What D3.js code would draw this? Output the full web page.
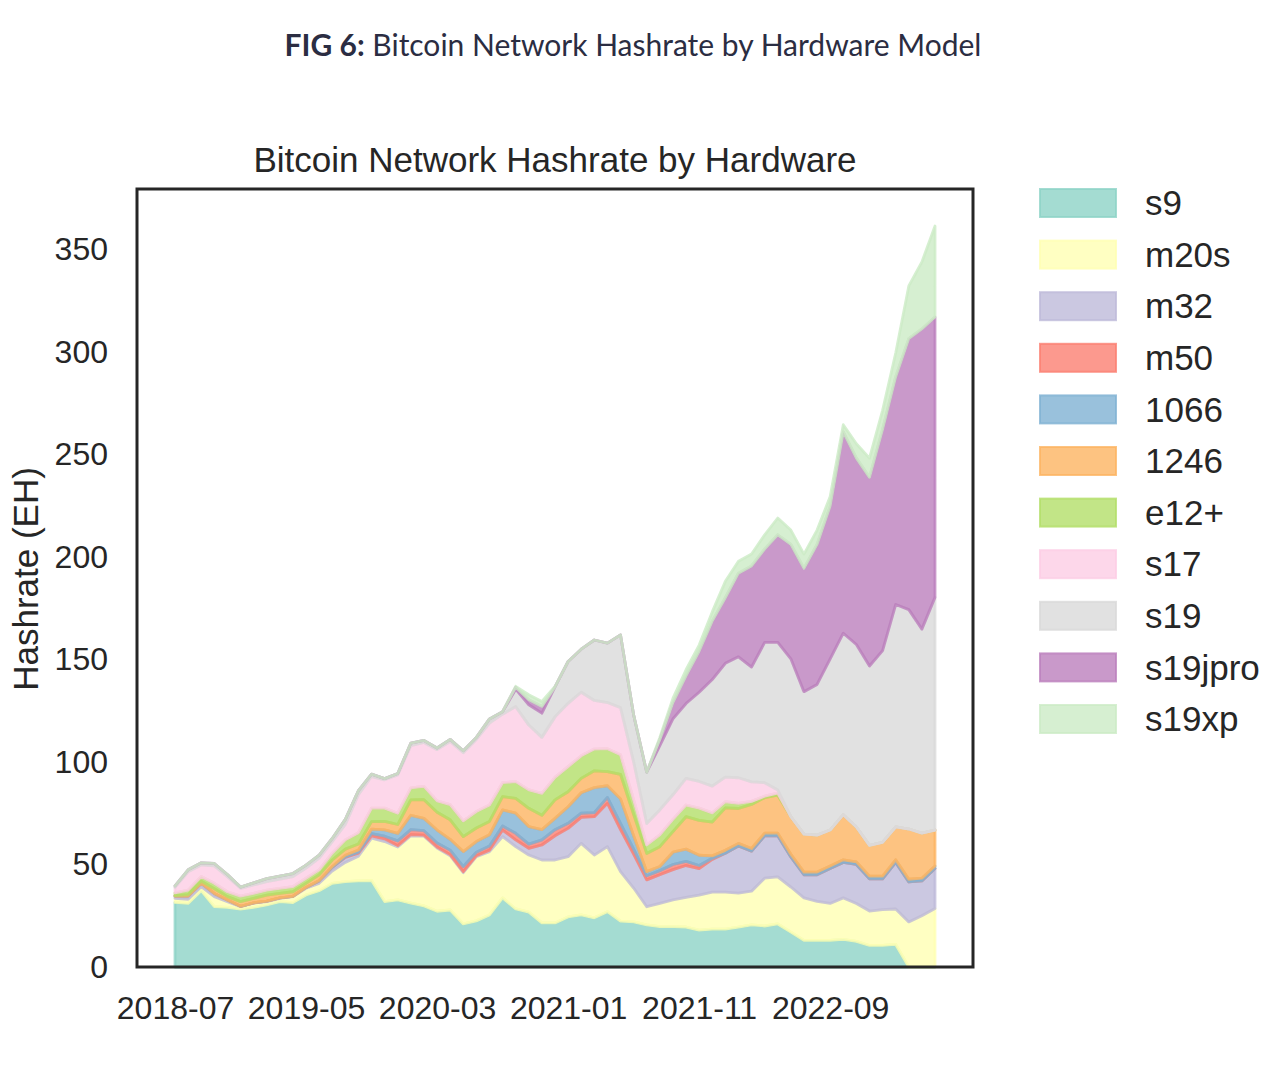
<!DOCTYPE html>
<html>
<head>
<meta charset="utf-8">
<script src="https://cdnjs.cloudflare.com/ajax/libs/d3/7.8.5/d3.min.js"></script>
<style>
  body { margin: 0; background: #fff; }
  svg { display: block; }
</style>
</head>
<body>
<svg></svg>
<script>
// Hashrate by hardware model, EH, monthly 2018-07 .. 2023-05
const tickLabels = ['2018-07', '2019-05', '2020-03', '2021-01', '2021-11', '2022-09']
const yTicks = [0, 50, 100, 150, 200, 250, 300, 350]
const models = ['s9', 'm20s', 'm32', 'm50', '1066', '1246', 'e12+', 's17', 's19', 's19jpro', 's19xp']
const colors = ['#8dd3c7', '#ffffb3', '#bebada', '#fb8072', '#80b1d3', '#fdb462', '#b3de69', '#fccde5', '#d9d9d9', '#bc80bd', '#ccebc5']

const s9 = [31.5, 31, 37.2, 29.4, 29.1, 28.2, 29.1, 30.3, 31.9, 31.4,
    35.1, 37.2, 40.8, 41.6, 42, 42.2, 31.9, 32.7, 31.2, 29.8,
    27.2, 27.8, 21, 22.5, 25.4, 33.7, 28.3, 26.8, 21.5, 21.5,
    24.4, 25.4, 24, 27, 22.4, 22, 20.5, 19.7, 19.7, 19.5,
    18, 18.5, 18.5, 19.5, 20.5, 20, 21, 17, 13, 13,
    13, 13.5, 12.5, 10.5, 10.5, 11, 0, 0, 0]
const m20s = [2.0, 2.0, 2.0, 4.9, 2.8, 1.2, 2.0, 1.6, 1.6, 2.9,
    3.3, 3.6, 6.0, 9.4, 12.0, 20.6, 29.3, 25.8, 32.8, 34.0,
    30.8, 26.5, 25.0, 31.3, 30.9, 29.9, 30.4, 27.8, 30.7, 30.7,
    29.4, 34.9, 30.6, 31.7, 24.1, 16.5, 8.9, 11.3, 13.0, 14.5,
    17.1, 18.0, 18.0, 16.5, 16.5, 23.3, 23.0, 22.0, 20.7, 19.0,
    18.0, 20.2, 18.5, 16.8, 17.5, 17.3, 22.0, 25.0, 28.5]
const m32 = [1.1, 1.6, 1.7, 1.6, 0.8, 0.2, 0.2, 0.2, 0.2, 0.2,
    0.4, 1.2, 1.8, 2.5, 1.5, 1.2, 1.3, 0.7, 0.6, 0.5,
    0.5, 0.5, 0.5, 0.5, 0.7, 3.2, 3.3, 3.3, 7.3, 11.8,
    13.8, 12.7, 18.7, 21.1, 20.5, 16.5, 13.1, 14.0, 14.8, 15.5,
    12.9, 16.0, 19.0, 23.0, 19.5, 20.7, 20.0, 14.7, 11.3, 13.0,
    17.0, 17.3, 19.0, 15.7, 15.0, 22.7, 19.5, 17.0, 19.5]
const m50 = [0, 0, 0, 0, 0, 0, 0, 0, 0, 0,
    0, 0, 0, 0.2, 0.5, 1.0, 1.3, 2.3, 2.4, 2.2,
    2.0, 2.2, 2.5, 1.7, 2.0, 2.0, 3.2, 2.0, 2.5, 3.0,
    2.5, 2.0, 2.0, 2.9, 3.0, 2.5, 2.0, 2.0, 2.5, 2.0,
    1.5, 0.5, 0, 0, 0, 0, 0, 0, 0, 0,
    0, 0, 0, 0, 0, 0, 0, 0, 0]
const k1066 = [0, 0, 0, 0, 0, 0, 0, 0, 0, 0,
    0, 0.2, 0.4, 0.8, 1.1, 2.2, 3.1, 3.7, 7.0, 6.0,
    6.3, 5.3, 7.3, 5.2, 5.5, 7.8, 9.8, 8.6, 5.0, 5.5,
    8.1, 10.0, 12.2, 5.7, 12.0, 6.5, 2.0, 2.0, 6.0, 6.0,
    5.0, 1.2, 1.4, 1.3, 1.3, 1.3, 1.3, 1.3, 1.3, 1.3,
    1.3, 1.3, 1.3, 1.3, 1.3, 1.3, 1.3, 1.3, 1.3]
const k1246 = [0.2, 0.7, 0.9, 2.3, 1.6, 2.3, 2.2, 3.0, 2.2, 2.2,
    2.0, 2.7, 3.2, 3.0, 2.9, 3.7, 4.1, 4.3, 7.5, 9.1,
    8.7, 9.5, 7.3, 6.6, 6.5, 6.5, 7.3, 8.9, 7.0, 9.0,
    7.3, 7.0, 8.2, 6.9, 12.0, 10.5, 8.9, 9.7, 10.0, 15.8,
    17.0, 16.5, 20.7, 17.0, 21.5, 17.3, 18.5, 18.3, 18.5, 18.0,
    17.5, 22.0, 17.0, 15.0, 16.5, 16.0, 24.5, 22.0, 17.5]
const e12 = [1.4, 2.2, 2.3, 2.6, 2.4, 2.7, 2.4, 2.4, 2.5, 2.5,
    2.5, 2.5, 3.3, 4.5, 5.5, 6.6, 6.5, 5.5, 5.9, 6.5,
    5.5, 7.4, 7.7, 8.0, 8.0, 6.8, 8.1, 9.0, 10.7, 11.0,
    12.2, 11.0, 10.6, 11.2, 9.5, 7.0, 4.1, 5.7, 6.0, 5.7,
    6.0, 4.5, 3.0, 2.5, 1.5, 0.7, 1.0, 0, 0, 0,
    0, 0, 0, 0, 0, 0, 0, 0, 0]
const s17 = [2.6, 8.9, 5.7, 8.5, 7.4, 3.8, 4.1, 4.1, 4.4, 4.9,
    4.9, 5.7, 5.7, 7.5, 18.5, 15.4, 13.8, 18.7, 20.6, 21.4,
    25.0, 30.8, 33.2, 35.2, 40.0, 33.4, 36.6, 31.6, 27.3, 29.5,
    30.9, 31.0, 23.7, 22.5, 23.0, 18.5, 10.5, 12.2, 12.0, 13.0,
    13.0, 13.0, 12.0, 12.5, 9.5, 6.6, 1.5, 0, 0, 0,
    0, 0, 0, 0, 0, 0, 0, 0, 0]
const s19 = [0.8, 1.0, 1.0, 1.2, 1.0, 0.6, 1.0, 1.5, 1.5, 1.5,
    1.5, 1.5, 1.5, 2.5, 2.0, 1.2, 0.6, 0.7, 1.2, 1.0,
    0.8, 1.0, 1.0, 1.0, 2.0, 1.2, 8.5, 9.9, 11.8, 14.6,
    20.4, 21.0, 29.5, 29.0, 35.5, 23.0, 25.0, 31.4, 37.0, 36.5,
    43.5, 52.0, 55.5, 59.0, 56.0, 68.4, 72.0, 77.0, 69.5, 73.5,
    83.5, 88.5, 89.0, 87.5, 93.5, 108.5, 107.0, 99.5, 113.5]
const s19jpro = [0, 0, 0, 0, 0, 0, 0, 0, 0, 0,
    0, 0, 0, 0, 0, 0, 0, 0, 0, 0,
    0, 0, 0, 0, 0, 0, 1.0, 2.5, 3.3, 0,
    0, 0, 0, 0, 0, 0, 0, 3.0, 8.0, 13.5,
    20.0, 28.5, 32.0, 40.8, 49.3, 45.5, 52.5, 55.8, 60.1, 68.3,
    74.5, 98.2, 90.9, 92.0, 107.9, 111.0, 132.2, 146.4, 136.7]
const s19xp = [0, 0, 0, 0, 0, 0, 0, 0, 0, 0,
    0, 0, 0, 0, 0, 0, 0, 0, 0, 0,
    0, 0, 0, 0, 0, 0, 0.4, 2.4, 2.4, 0.2,
    0, 0, 0, 0, 0, 0, 0, 1.0, 2.0, 3.0,
    3.0, 4.5, 8.0, 5.8, 5.8, 7.0, 8.2, 7.0, 7.0, 7.0,
    4.7, 3.5, 7.0, 9.4, 9.3, 11.7, 25.7, 32.7, 44.4]

const seriesList = [s9, m20s, m32, m50, k1066, k1246, e12, s17, s19, s19jpro, s19xp]

// month labels for the x positions
const fmt = d3.timeFormat('%Y-%m')
const months = d3.timeMonth.range(new Date(2018, 6, 1), new Date(2023, 5, 1)).map(fmt)

let rows = months.map((m, i) => {
    let r = { month: m }
    models.forEach((k, j) => { r[k] = seriesList[j][i] })
    return r
})

let stacked = d3.stack().keys(models)(rows)

// Canvas setup
let width = 1280
let height = 1075
let svg = d3.select('svg')
    .attr('width', width)
    .attr('height', height)

let plotLeft = 137, plotRight = 973, plotTop = 189, plotBottom = 967
let n = months.length - 1
let maxTotal = d3.max(stacked[stacked.length - 1], d => d[1])

let xScale = d3.scaleLinear()
    .domain([-0.05 * n, n * 1.05])
    .range([plotLeft, plotRight])

let yScale = d3.scaleLinear()
    .domain([0, maxTotal * 1.05])
    .range([plotBottom, plotTop])

let area = d3.area()
    .x((d, i) => xScale(i))
    .y0(d => yScale(d[0]))
    .y1(d => yScale(d[1]))

// areas, edges in the same colour like matplotlib stackplot
svg.append('g')
    .selectAll('path')
    .data(stacked)
    .enter()
    .append('path')
    .attr('d', area)
    .attr('fill', (d, i) => colors[i])
    .attr('fill-opacity', 0.8)
    .attr('stroke', (d, i) => colors[i])
    .attr('stroke-opacity', 0.8)
    .attr('stroke-width', 2.8)
    .attr('stroke-linejoin', 'round')

// frame
svg.append('rect')
    .attr('x', plotLeft)
    .attr('y', plotTop)
    .attr('width', plotRight - plotLeft)
    .attr('height', plotBottom - plotTop)
    .attr('fill', 'none')
    .attr('stroke', '#262626')
    .attr('stroke-width', 3)

const chartFont = '"Liberation Sans", Arial, sans-serif'

// axes
let tickIdx = tickLabels.map(t => months.indexOf(t))
let xAxis = d3.axisBottom(xScale)
    .tickValues(tickIdx)
    .tickFormat(i => months[i])
    .tickSize(0)
    .tickPadding(29)
let gx = svg.append('g')
    .attr('transform', 'translate(0,' + plotBottom + ')')
    .call(xAxis)
gx.select('.domain').remove()
gx.selectAll('text')
    .style('font-family', chartFont)
    .style('font-size', '32px')
    .attr('fill', '#262626')

let yAxis = d3.axisLeft(yScale)
    .tickValues(yTicks)
    .tickSize(0)
    .tickPadding(29)
let gy = svg.append('g')
    .attr('transform', 'translate(' + plotLeft + ',0)')
    .call(yAxis)
gy.select('.domain').remove()
gy.selectAll('text')
    .style('font-family', chartFont)
    .style('font-size', '32px')
    .attr('fill', '#262626')

// y label
svg.append('text')
    .attr('transform', 'translate(38,579) rotate(-90)')
    .attr('text-anchor', 'middle')
    .style('font-family', chartFont)
    .style('font-size', '35px')
    .attr('fill', '#262626')
    .text('Hashrate (EH)')

// chart title
svg.append('text')
    .attr('x', (plotLeft + plotRight) / 2)
    .attr('y', 172)
    .attr('text-anchor', 'middle')
    .style('font-family', chartFont)
    .style('font-size', '35px')
    .attr('fill', '#262626')
    .text('Bitcoin Network Hashrate by Hardware')

// figure caption
let cap = svg.append('text')
    .attr('x', 633)
    .attr('y', 56)
    .attr('text-anchor', 'middle')
    .style('font-family', 'Lato, sans-serif')
    .style('font-size', '30px')
    .attr('fill', '#2b2d42')
cap.append('tspan').style('font-weight', 'bold').text('FIG 6:')
cap.append('tspan').text(' Bitcoin Network Hashrate by Hardware Model')

// legend
let legend = svg.append('g')
models.forEach((m, i) => {
    let yy = 189 + i * 51.6
    legend.append('rect')
        .attr('x', 1040)
        .attr('y', yy)
        .attr('width', 76)
        .attr('height', 28)
        .attr('fill', colors[i])
        .attr('fill-opacity', 0.8)
        .attr('stroke', colors[i])
        .attr('stroke-opacity', 0.8)
        .attr('stroke-width', 2)
    legend.append('text')
        .attr('x', 1145)
        .attr('y', yy + 14)
        .attr('dy', '0.35em')
        .style('font-family', chartFont)
        .style('font-size', '35px')
        .attr('fill', '#262626')
        .text(m)
})
</script>
</body>
</html>
